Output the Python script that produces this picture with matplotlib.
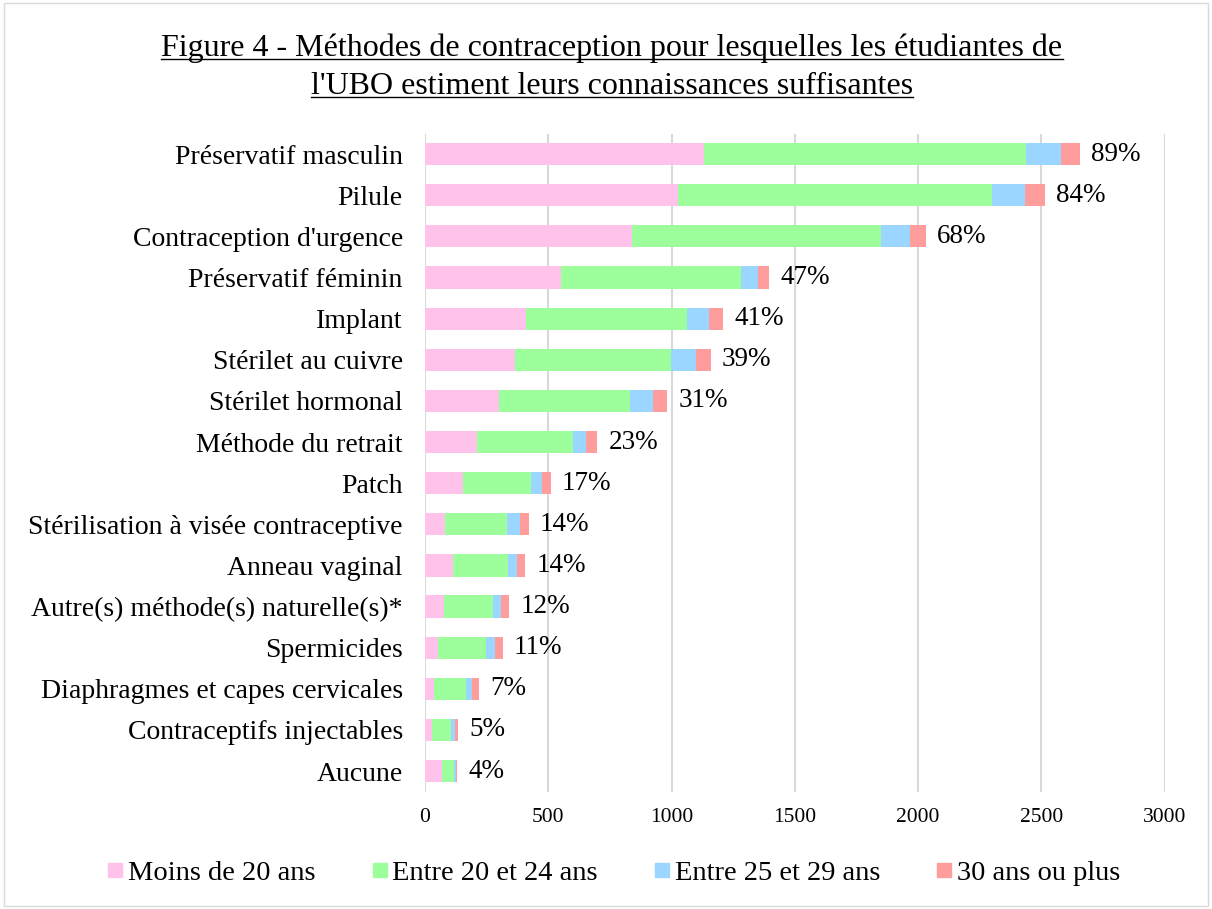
import numpy as np
import matplotlib.pyplot as plt
from matplotlib.patches import Rectangle
from matplotlib.lines import Line2D

plt.rcParams['font.family'] = ['Liberation Serif', 'DejaVu Serif']

# categories, top to bottom
methodes = ["Préservatif masculin", "Pilule", "Contraception d'urgence",
            "Préservatif féminin", "Implant", "Stérilet au cuivre",
            "Stérilet hormonal", "Méthode du retrait", "Patch",
            "Stérilisation à visée contraceptive", "Anneau vaginal",
            "Autre(s) méthode(s) naturelle(s)*", "Spermicides",
            "Diaphragmes et capes cervicales", "Contraceptifs injectables",
            "Aucune"]
moins_20 = [1131, 1026, 839, 552, 409, 366, 300, 212, 154, 82, 113, 76, 54, 35, 27, 68]
entre_20_24 = [1306, 1275, 1010, 728, 654, 632, 531, 389, 277, 251, 223, 200, 195, 131, 80, 51]
entre_25_29 = [143, 134, 118, 72, 89, 99, 92, 52, 43, 52, 38, 34, 36, 26, 15, 8]
plus_30 = [77, 78, 65, 45, 56, 62, 60, 45, 36, 35, 32, 32, 30, 28, 13, 4]
pourcents = ["89%", "84%", "68%", "47%", "41%", "39%", "31%", "23%", "17%",
             "14%", "14%", "12%", "11%", "7%", "5%", "4%"]

series = [("Moins de 20 ans", moins_20, "#FFC2EA"),
          ("Entre 20 et 24 ans", entre_20_24, "#9CFF9C"),
          ("Entre 25 et 29 ans", entre_25_29, "#9AD6FF"),
          ("30 ans ou plus", plus_30, "#FF9C9C")]

fig = plt.figure(figsize=(12.12, 9.09), dpi=100)
ax = fig.add_axes([0.3507, 0.1291, 0.6103, 0.7240])

y = np.arange(len(methodes))
left = np.zeros(len(methodes))
handles = []
for name, vals, col in series:
    vals = np.array(vals, dtype=float)
    ax.barh(y, vals, left=left, height=0.54, color=col, zorder=3)
    left += vals
    handles.append(Line2D([], [], marker='s', linestyle='none', markersize=10.5,
                          markerfacecolor=col, markeredgecolor=col, label=name))

# percentage labels at end of bars
for i, txt in enumerate(pourcents):
    ax.annotate(txt, (left[i], y[i]), xytext=(8, 0), textcoords='offset points',
                va='center', ha='left', fontsize=19.5)

ax.set_xlim(0, 3000)
ax.set_ylim(len(methodes) - 0.5, -0.5)
ax.set_xticks(np.arange(0, 3001, 500))
ax.set_yticks(y)
ax.set_yticklabels(methodes, fontsize=20)
ax.tick_params(axis='x', labelsize=15.5, length=0, pad=12)
ax.tick_params(axis='y', length=0, pad=16)
ax.grid(axis='x', color='#D9D9D9', linewidth=1.5, zorder=0)
for s in ax.spines.values():
    s.set_visible(False)

fig.legend(handles=handles, loc='center', bbox_to_anchor=(0.505, 0.04), ncol=4,
           frameon=False, fontsize=20.5, handletextpad=0.05, columnspacing=1.85,
           handlelength=0.8)

# title, underlined
t1 = fig.text(0.505, 0.947, "Figure 4 - Méthodes de contraception pour lesquelles les étudiantes de",
              ha='center', va='center', fontsize=23)
t2 = fig.text(0.505, 0.905, "l'UBO estiment leurs connaissances suffisantes",
              ha='center', va='center', fontsize=23)
fig.canvas.draw()
r = fig.canvas.get_renderer()
for t in (t1, t2):
    bb = t.get_window_extent(r).transformed(fig.transFigure.inverted())
    yy = bb.y0 + 0.004
    fig.add_artist(Line2D([bb.x0, bb.x1], [yy, yy], color='black', linewidth=1.0,
                          transform=fig.transFigure))

# chart border
fig.add_artist(Rectangle((0.003, 0.003), 0.994, 0.994, transform=fig.transFigure,
                         fill=False, edgecolor='#D9D9D9', linewidth=1.0))

fig.savefig('out.png', dpi=100)
